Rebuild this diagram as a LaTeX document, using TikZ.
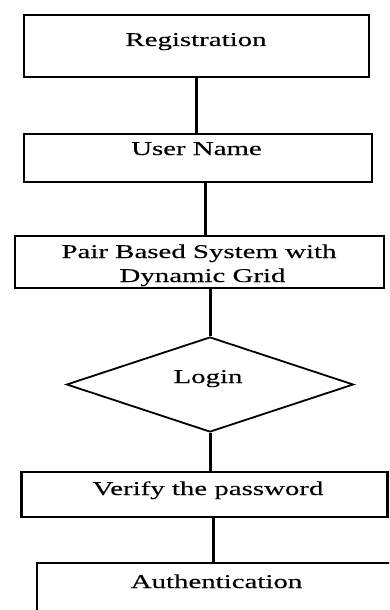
\documentclass[tikz,border=0pt]{standalone}
\usepackage{fontspec}
\setmainfont{Liberation Serif}[FakeStretch=1.48,FakeBold=0.2]
\usetikzlibrary{shapes.geometric}
\begin{document}
\begin{tikzpicture}[x=1pt,y=-1pt,
  box/.style={draw=black, line width=2.6pt, rectangle, inner sep=0pt, fill=white},
  dia/.style={draw=black, line width=1.8pt, diamond, inner sep=0pt},
  txt/.style={anchor=base, inner sep=0pt, font=\fontsize{19.5}{24}\selectfont},
  conn/.style={draw=black, line width=3pt}]
\useasboundingbox (0,0) rectangle (389,610);
\clip (0,0) rectangle (389,610);
\fill[white] (0,0) rectangle (389,610);
% boxes
\node[box, minimum width=345pt, minimum height=62pt] (b1) at (196.5,46) {};
\node[box, minimum width=348pt, minimum height=48pt] (b2) at (198,158) {};
\node[box, minimum width=369pt, minimum height=52pt] (b3) at (199.5,262) {};
\node[dia, minimum width=287pt, minimum height=95pt] (d) at (210,384.5) {};
\node[box, minimum width=366pt, minimum height=45pt] (b5) at (204.5,494.5) {};
\node[box, minimum width=366pt, minimum height=62pt] (b6) at (220,594) {};
% texts
\node[txt] (t1) at (196,46) {Registration};
\node[txt] (t2) at (196.5,155) {User Name};
\node[txt] (t3a) at (199,258) {Pair Based System with};
\node[txt] (t3b) at (202.5,282) {Dynamic Grid};
\node[txt] (t4) at (208,383) {Login};
\node[txt] (t5) at (208,495) {Verify the password};
\node[txt] (t6) at (216.5,588) {Authentication};
% connector x positions
\coordinate (x1) at (196,0);
\coordinate (x2) at (205,0);
\coordinate (x5) at (213,0);
\draw[conn] (b1.south -| x1) -- (b2.north -| x1);
\draw[conn] (b2.south -| x2) -- (b3.north -| x2);
\draw[conn] (b3.south -| d.north) -- (d.north);
\draw[conn] (d.south) -- (b5.north -| d.south);
\draw[conn] (b5.south -| x5) -- (b6.north -| x5);
\end{tikzpicture}
\end{document}
